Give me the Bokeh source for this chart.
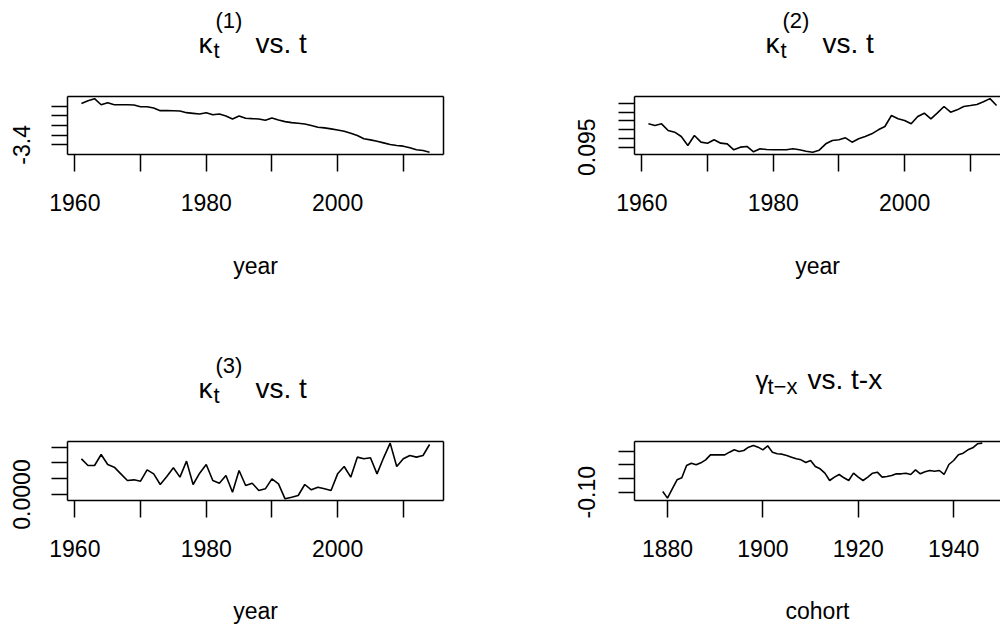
from bokeh.plotting import figure
from bokeh.models import Range1d, FixedTicker, LinearAxis
from bokeh.core.properties import value
from bokeh.layouts import column, row
from bokeh.embed import file_html
from bokeh.resources import INLINE

# ---------------- data ----------------
years = list(range(1961, 2015))
kappa1 = [-2.971, -2.943, -2.922, -2.985, -2.964, -2.985, -2.985, -2.985, -2.987, -3.005,
          -3.006, -3.019, -3.046, -3.046, -3.047, -3.050, -3.067, -3.074, -3.081, -3.067,
          -3.088, -3.081, -3.101, -3.132, -3.101, -3.125, -3.129, -3.132, -3.146, -3.122,
          -3.143, -3.160, -3.170, -3.177, -3.184, -3.201, -3.218, -3.225, -3.235, -3.246,
          -3.259, -3.280, -3.304, -3.338, -3.349, -3.363, -3.380, -3.397, -3.407, -3.414,
          -3.431, -3.452, -3.459, -3.478]
kappa2 = [0.10828, 0.10733, 0.10828, 0.10449, 0.10354, 0.10110, 0.09597, 0.10165, 0.09786, 0.09729,
          0.09919, 0.09729, 0.09691, 0.09351, 0.09502, 0.09540, 0.09240, 0.09407, 0.09369, 0.09351,
          0.09351, 0.09351, 0.09407, 0.09351, 0.09274, 0.09210, 0.09331, 0.09691, 0.09881, 0.09919,
          0.10032, 0.09786, 0.09976, 0.10108, 0.10260, 0.10487, 0.10676, 0.11301, 0.11112, 0.11017,
          0.10828, 0.11244, 0.11434, 0.11112, 0.11453, 0.11813, 0.11490, 0.11623, 0.11813, 0.11869,
          0.11926, 0.12078, 0.12260, 0.11869]
kappa3 = [0.001131, 0.000919, 0.000919, 0.001268, 0.000951, 0.000867, 0.000655, 0.000444, 0.000465, 0.000423,
          0.000782, 0.000655, 0.000317, 0.000571, 0.000846, 0.000550, 0.001057, 0.000317, 0.000676, 0.000951,
          0.000444, 0.000359, 0.000602, 0.000074, 0.000761, 0.000285, 0.000359, 0.000127, 0.000180, 0.000497,
          0.000338, -0.000137, -0.000085, -0.000032, 0.000317, 0.000148, 0.000232, 0.000180, 0.000127, 0.000655,
          0.000888, 0.000550, 0.001184, 0.001131, 0.001163, 0.000655, 0.001163, 0.001628, 0.000888, 0.001131,
          0.001237, 0.001184, 0.001237, 0.001585]
cohorts = list(range(1879, 1947))
gamma = [-0.0974, -0.1218, -0.0877, -0.0547, -0.0474, -0.0023, 0.0062, 0.0001, 0.0075, 0.0184,
         0.0367, 0.0367, 0.0367, 0.0367, 0.0465, 0.0550, 0.0489, 0.0526, 0.0648, 0.0709,
         0.0648, 0.0550, 0.0697, 0.0465, 0.0404, 0.0392, 0.0343, 0.0282, 0.0221, 0.0184,
         0.0087, 0.0160, -0.0060, -0.0145, -0.0304, -0.0572, -0.0450, -0.0352, -0.0474, -0.0572,
         -0.0304, -0.0450, -0.0572, -0.0450, -0.0304, -0.0267, -0.0450, -0.0426, -0.0389, -0.0328,
         -0.0328, -0.0304, -0.0352, -0.0181, -0.0328, -0.0255, -0.0206, -0.0231, -0.0206, -0.0352,
         0.0013, 0.0160, 0.0367, 0.0428, 0.0550, 0.0623, 0.0770, 0.0794]

year_ticks = [1960, 1970, 1980, 1990, 2000, 2010]
year_labels = ["1960", "", "1980", "", "2000", ""]
cohort_ticks = [1880, 1900, 1920, 1940]
cohort_labels = ["1880", "1900", "1920", "1940"]
k1_ticks = [-3.4, -3.3, -3.2, -3.1, -3.0]
k1_labels = ["-3.4", "", "", "", ""]
k2_ticks = [0.095, 0.100, 0.105, 0.110, 0.115, 0.120]
k2_labels = ["0.095", "", "", "", "", ""]
k3_ticks = [0.0, 0.0005, 0.0010, 0.0015]
k3_labels = ["0.0000", "", "", ""]
g_ticks = [-0.10, -0.05, 0.0, 0.05]
g_labels = ["-0.10", "", "", ""]

FONT = "Liberation Sans"
FULL_W = 376  # full plot-box width in px
TITLE_SHIFT = -9  # vertical correction of title pieces, px


def r_range(lo, hi):
    d = hi - lo
    return lo - 0.04 * d, hi + 0.04 * d


def make_panel(width, height, left, right, top, bottom, frame_w,
               xfull, yr, xticks, xlabels, yticks, ylabels, xlab, lab_standoff,
               right_col):
    ppx = FULL_W / (xfull[1] - xfull[0])
    x_end = xfull[0] + frame_w / ppx
    p = figure(width=width, height=height, x_range=Range1d(xfull[0], x_end),
               y_range=Range1d(*yr), output_backend="svg", toolbar_location=None, title=None,
               min_border_left=left, min_border_right=right,
               min_border_top=top, min_border_bottom=bottom)
    p.outline_line_color = None
    p.grid.visible = False
    p.background_fill_color = "white"
    p.border_fill_color = "white"
    for ax, ticks, labs in ((p.xaxis[0], xticks, xlabels), (p.yaxis[0], yticks, ylabels)):
        ax.ticker = FixedTicker(ticks=ticks)
        ax.major_label_overrides = {t: l for t, l in zip(ticks, labs)}
        ax.axis_line_color = "black"
        ax.axis_line_width = 1.5
        ax.major_tick_line_color = "black"
        ax.major_tick_line_width = 1.5
        ax.major_tick_in = 0
        ax.minor_tick_line_color = None
        ax.major_label_text_font = FONT
        ax.major_label_text_font_size = "23px"
        ax.major_label_text_color = "black"
    p.xaxis.major_tick_out = 17
    p.xaxis.major_label_standoff = 22
    p.yaxis.major_tick_out = 16
    p.yaxis.major_label_standoff = 23 if right_col else 21
    p.yaxis.major_label_orientation = "vertical"
    p.xaxis.axis_label = xlab
    p.xaxis.axis_label_text_font = FONT
    p.xaxis.axis_label_text_font_size = "23px"
    p.xaxis.axis_label_text_font_style = "normal"
    p.xaxis.axis_label_text_color = "black"
    p.xaxis.axis_label_standoff = lab_standoff
    locs = ["above"] if right_col else ["above", "right"]
    for loc in locs:
        b = LinearAxis(ticker=FixedTicker(ticks=[]), axis_line_color="black",
                       axis_line_width=1.5, major_tick_line_color=None,
                       minor_tick_line_color=None, major_label_text_font_size="0px")
        p.add_layout(b, loc)
    return p


def title_fig(width, height, left, right, frame_w, box_top, pieces):
    """Blank strip above a panel; x in px from the box's left edge, y in px down from strip top."""
    t = figure(width=width, height=height, x_range=Range1d(0, frame_w), y_range=Range1d(height, 0),
               output_backend="svg", toolbar_location=None, title=None,
               x_axis_location=None, y_axis_location=None,
               min_border_left=left, min_border_right=right, min_border_top=0, min_border_bottom=0)
    t.grid.visible = False
    t.outline_line_color = None
    t.background_fill_color = "white"
    t.border_fill_color = "white"
    cx = FULL_W / 2
    for text, dx, dy, size in pieces:
        t.text(x=[cx + dx], y=[box_top + dy + TITLE_SHIFT], text=[text], text_font=value(FONT),
               text_font_size=value(size), text_align="left", text_baseline="alphabetic",
               text_color="black")
    return t


def kappa_title(k):
    return [("\u03ba", -57, -44, "28px"), ("t", -42, -37, "22px"),
            ("(%d)" % k, -40, -67, "22px"), ("vs. t", 0, -44, "28px")]


gamma_title = [("\u03b3", -67, -53, "26px"), ("t\u2212x", -55, -46, "22px"),
               ("vs. t-x", -15, -53, "28px")]

yfull = r_range(min(years), max(years))
cfull = r_range(min(cohorts) - 3, max(cohorts) + 3)

k1_rng = (-3.5005, -2.8995)
k2_rng = (0.09085, 0.12381)
k3_rng = (-0.00019, 0.00168)
g_rng = (-0.1304, 0.0855)

TITLE_H = 80
TOP_H, BOT_H = 350 - TITLE_H, 276 - TITLE_H
LEFT_W, RIGHT_W = 508, 492
RIGHT_FW = RIGHT_W - 126
TOP_BT, BOT_BT = 96 - TITLE_H, 91 - TITLE_H   # border above the plot box

p1 = make_panel(LEFT_W, TOP_H, 67, 65, TOP_BT, TOP_H - TOP_BT - 58, 376, yfull, k1_rng,
                year_ticks, year_labels, k1_ticks, k1_labels, "year", 39, False)
p1.line(years, kappa1, line_color="black", line_width=1.6)
t1 = title_fig(LEFT_W, TITLE_H, 67, 65, 376, 96, kappa_title(1))

p2 = make_panel(RIGHT_W, TOP_H, 126, 0, TOP_BT, TOP_H - TOP_BT - 58, RIGHT_FW, yfull, k2_rng,
                year_ticks, year_labels, k2_ticks, k2_labels, "year", 39, True)
p2.line(years, kappa2, line_color="black", line_width=1.6)
t2 = title_fig(RIGHT_W, TITLE_H, 126, 0, RIGHT_FW, 96, kappa_title(2))

p3 = make_panel(LEFT_W, BOT_H, 67, 65, BOT_BT, BOT_H - BOT_BT - 59, 376, yfull, k3_rng,
                year_ticks, year_labels, k3_ticks, k3_labels, "year", 38, False)
p3.line(years, kappa3, line_color="black", line_width=1.6)
t3 = title_fig(LEFT_W, TITLE_H, 67, 65, 376, 91, kappa_title(3))

p4 = make_panel(RIGHT_W, BOT_H, 126, 0, BOT_BT, BOT_H - BOT_BT - 59, RIGHT_FW, cfull, g_rng,
                cohort_ticks, cohort_labels, g_ticks, g_labels, "cohort", 38, True)
p4.line(cohorts, gamma, line_color="black", line_width=1.6)
t4 = title_fig(RIGHT_W, TITLE_H, 126, 0, RIGHT_FW, 91, gamma_title)

layout = column(row(column(t1, p1), column(t2, p2)), row(column(t3, p3), column(t4, p4)))
open("out.html", "w").write(file_html(layout, INLINE))
